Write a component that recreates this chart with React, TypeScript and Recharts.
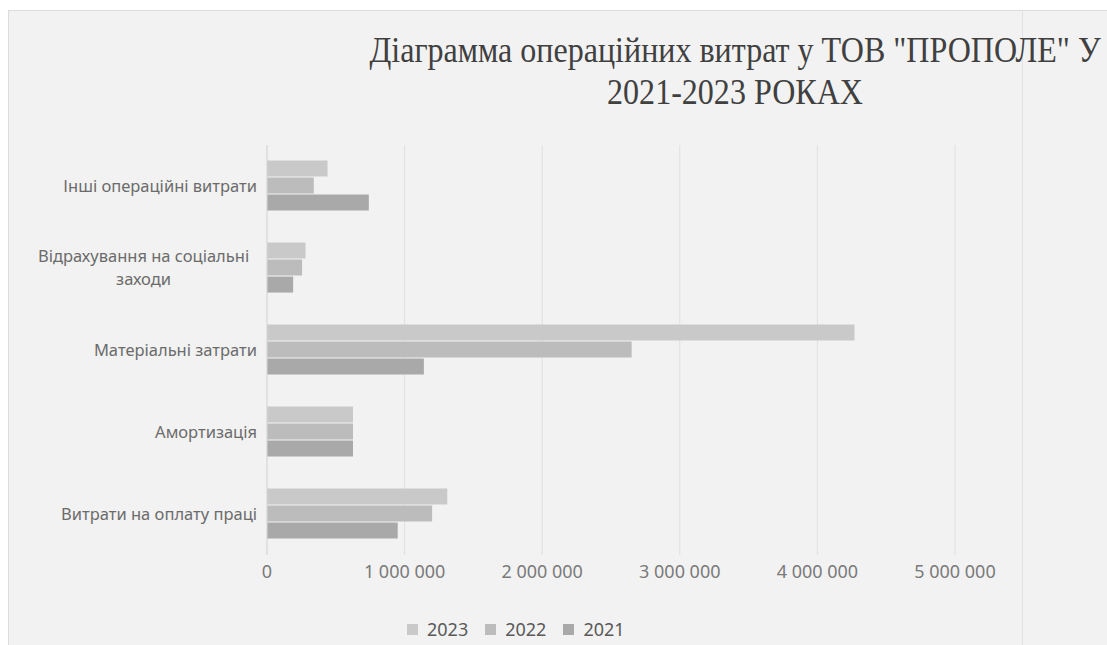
import React from 'react';
import {
  BarChart,
  Bar,
  XAxis,
  YAxis,
  CartesianGrid,
  Legend,
} from 'recharts';

// categories from top to bottom as they appear on the chart
const categories = [
  'Інші операційні витрати',
  'Відрахування на соціальні заходи',
  'Матеріальні затрати',
  'Амортизація',
  'Витрати на оплату праці',
];

const values2023 = [440000, 280000, 4270000, 625000, 1310000];
const values2022 = [340000, 255000, 2650000, 625000, 1200000];
const values2021 = [740000, 190000, 1140000, 625000, 950000];

const xTicks = [0, 1000000, 2000000, 3000000, 4000000, 5000000];

const seriesKeys = ['2023', '2022', '2021'];
const seriesColors = ['#c9c9c9', '#bcbcbc', '#a9a9a9'];

const titleLines = ['Діаграмма операційних витрат у ТОВ "ПРОПОЛЕ" У', '2021-2023 РОКАХ'];

const data = categories.map((name, i) => ({
  name,
  '2023': values2023[i],
  '2022': values2022[i],
  '2021': values2021[i],
}));

const formatTick = (v: number) =>
  String(v).replace(/\B(?=(\d{3})+(?!\d))/g, ' ');

// greedy word wrap, Excel breaks the long label into two lines
function wrapLabel(text: string, maxChars: number) {
  const words = text.split(' ');
  const lines: string[] = [];
  let cur = '';
  words.forEach(w => {
    const next = cur ? cur + ' ' + w : w;
    if (next.length > maxChars && cur) {
      lines.push(cur);
      cur = w;
    } else {
      cur = next;
    }
  });
  if (cur) lines.push(cur);
  return lines;
}

const tickFont = '"Noto Sans", sans-serif';

const CategoryTick = (props: any) => {
  const { x, y, payload } = props;
  const lines = wrapLabel(payload.value, 25);
  const fontSize = 16.5;
  const lineH = 23;
  if (lines.length === 1) {
    return (
      <text x={x} y={y} dy="0.35em" textAnchor="end" fontSize={fontSize} fill="#6b6b6b" fontFamily={tickFont}>
        {lines[0]}
      </text>
    );
  }
  const longest = Math.max(...lines.map(l => l.length));
  const w = longest * 0.55 * fontSize;
  const cx = x - w / 2;
  const startY = y - ((lines.length - 1) * lineH) / 2;
  return (
    <text x={cx} y={startY} textAnchor="middle" fontSize={fontSize} fill="#6b6b6b" fontFamily={tickFont}>
      {lines.map((l, i) => (
        <tspan key={i} x={cx} y={startY + i * lineH} dy="0.35em">
          {l}
        </tspan>
      ))}
    </text>
  );
};

const LegendContent = () => (
  <div style={{ display: 'flex', alignItems: 'center', fontFamily: tickFont, fontSize: 18, color: '#595959' }}>
    {seriesKeys.map((k, i) => (
      <div key={k} style={{ display: 'flex', alignItems: 'center', marginRight: 17 }}>
        <div style={{ width: 11, height: 11, background: seriesColors[i], marginRight: 9 }} />
        <span>{k}</span>
      </div>
    ))}
  </div>
);

export default function App() {
  return (
    <div
      style={{
        position: 'absolute',
        left: 0,
        top: 0,
        width: 1107,
        height: 645,
        background: '#ffffff',
        overflow: 'hidden',
      }}
    >
      {/* chart panel */}
      <div
        style={{
          position: 'absolute',
          left: 8,
          top: 10,
          width: 1110,
          height: 640,
          background: '#f2f2f2',
          borderLeft: '1px solid #dcdcdc',
          borderTop: '1px solid #dcdcdc',
        }}
      />
      <div
        style={{
          position: 'absolute',
          left: 1022,
          top: 11,
          width: 1,
          height: 634,
          background: '#e2e2e2',
        }}
      />
      <div
        style={{
          position: 'absolute',
          left: 0,
          top: 29,
          width: 1470,
          textAlign: 'center',
          fontFamily: '"Liberation Serif", "Times New Roman", serif',
          fontSize: 36,
          lineHeight: '42px',
          color: '#404040',
          transform: 'scaleX(0.89)',
          transformOrigin: '735px 0',
          whiteSpace: 'nowrap',
        }}
      >
        {titleLines.map(t => (
          <div key={t}>{t}</div>
        ))}
      </div>
      <div style={{ position: 'absolute', left: 0, top: 0 }}>
        <BarChart
          width={1107}
          height={645}
          data={data}
          layout="vertical"
          margin={{ top: 145, right: 152, bottom: 60, left: 0 }}
          barCategoryGap="19%"
          barGap={1}
        >
          <CartesianGrid horizontal={false} stroke="#e0e0e0" />
          <XAxis
            type="number"
            domain={[0, 5000000]}
            ticks={xTicks}
            tickFormatter={formatTick}
            axisLine={false}
            tickLine={false}
            tickSize={0}
            tickMargin={10}
            interval={0}
            height={30}
            tick={{ fontSize: 18, fill: '#7a7a7a', fontFamily: tickFont }}
          />
          <YAxis
            type="category"
            dataKey="name"
            width={267}
            axisLine={{ stroke: '#d9d9d9' }}
            tickLine={false}
            tickSize={0}
            tickMargin={10}
            interval={0}
            tick={<CategoryTick />}
          />
          <Legend
            layout="horizontal"
            verticalAlign="middle"
            align="center"
            content={<LegendContent />}
            wrapperStyle={{ left: 407, top: 617, width: 260, height: 24 }}
          />
          {seriesKeys.map((k, i) => (
            <Bar key={k} dataKey={k} fill={seriesColors[i]} isAnimationActive={false} />
          ))}
        </BarChart>
      </div>
    </div>
  );
}
